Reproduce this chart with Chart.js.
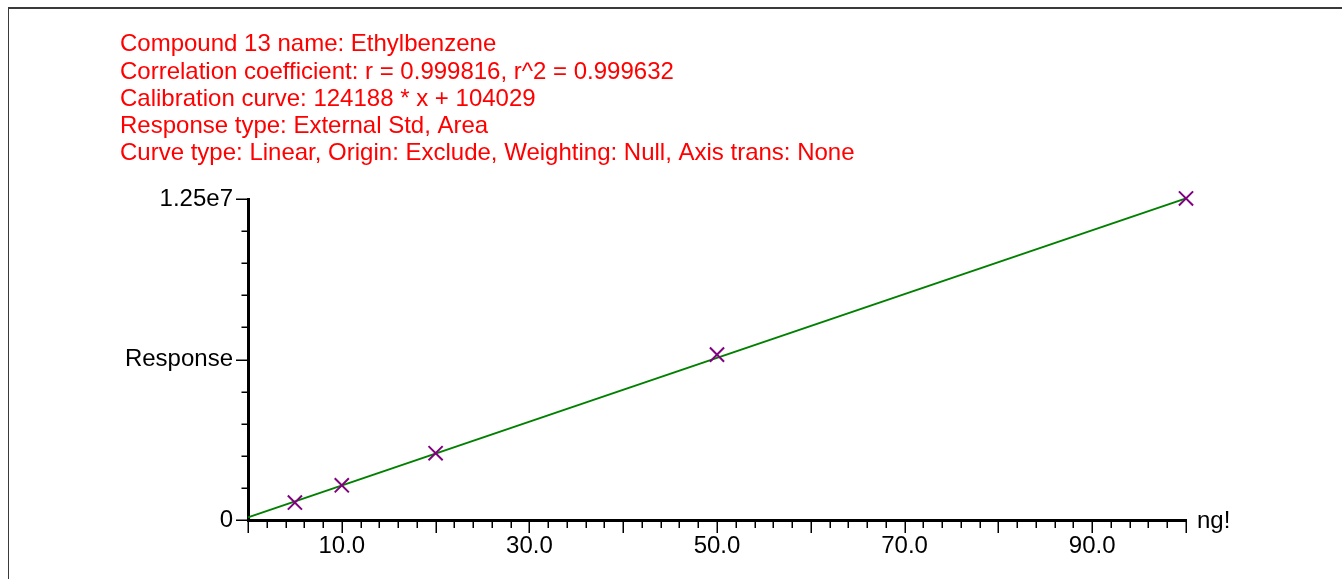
<!DOCTYPE html>
<html>
<head>
<meta charset="utf-8">
<title>Ethylbenzene calibration</title>
<script src="https://cdn.jsdelivr.net/npm/chart.js@4.4.1/dist/chart.umd.min.js"></script>
<style>
  html, body { margin: 0; padding: 0; background: #fff; }
  #wrap { position: relative; width: 1342px; height: 579px; overflow: hidden; }
  #frame {
    position: absolute; left: 8px; top: 7px; width: 1400px; height: 600px;
    border-top: 2px solid #3a3a3a; border-left: 1px solid #3a3a3a;
  }
  canvas { position: absolute; left: 0; top: 0; }
</style>
</head>
<body>
<div id="wrap">
  <div id="frame"></div>
  <canvas id="cal-chart" width="1342" height="579"></canvas>
</div>
<script>
// header text
var headerLines = [
  'Compound 13 name: Ethylbenzene',
  'Correlation coefficient: r = 0.999816, r^2 = 0.999632',
  'Calibration curve: 124188 * x + 104029',
  'Response type: External Std, Area',
  'Curve type: Linear, Origin: Exclude, Weighting: Null, Axis trans: None'
];

// calibration standards (ng) and measured response
var concentrations = [5, 10, 20, 50, 100];
var responses = [680000, 1350000, 2600000, 6440000, 12520000];

// fitted line end points (from the curve equation)
var fitX = [0, 100];
var fitY = [104029, 12522829];

// axis labels
var xLabelValues = [10, 30, 50, 70, 90];
var xLabels = ['10.0', '30.0', '50.0', '70.0', '90.0'];
var yLabelValues = [0, 6250000, 12500000];
var yLabels = ['0', 'Response', '1.25e7'];
var xUnit = 'ng!';

var xMinorStep = 2;
var xMajorStep = 10;
var yMinorStep = 1250000;
var yMajorStep = 6250000;

(function () {
  var canvas = document.getElementById('cal-chart');
  if (!canvas || typeof Chart === 'undefined') {
    return;
  }

  var FONT = "'Liberation Sans', Arial, sans-serif";
  var SIZE = 24;
  var red = '#ff0000';
  var green = '#008000';
  var purple = '#800080';

  function toPoints(xs, ys) {
    return xs.map(function (x, i) { return { x: x, y: ys[i] }; });
  }

  function labelFor(values, labels) {
    return function (value) {
      var i = values.indexOf(value);
      return i >= 0 ? labels[i] : '';
    };
  }

  // small and large tick marks outside the axes, plus the unit label
  var tickMarks = {
    id: 'tickMarks',
    afterDraw: function (chart) {
      var ctx = chart.ctx;
      var xs = chart.scales.x;
      var ys = chart.scales.y;
      var area = chart.chartArea;
      var v, p, len;

      ctx.save();
      ctx.strokeStyle = '#000';
      ctx.lineWidth = 1.5;
      ctx.beginPath();
      for (v = xs.min; v <= xs.max; v += xMinorStep) {
        p = Math.round(xs.getPixelForValue(v)) + 0.25;
        len = v % xMajorStep === 0 ? 13 : 8;
        ctx.moveTo(p, area.bottom);
        ctx.lineTo(p, area.bottom + len);
      }
      for (v = ys.min; v <= ys.max; v += yMinorStep) {
        p = Math.round(ys.getPixelForValue(v)) + 0.25;
        len = v % yMajorStep === 0 ? 12 : 6.5;
        ctx.moveTo(area.left, p);
        ctx.lineTo(area.left - len, p);
      }
      ctx.stroke();

      ctx.fillStyle = '#000';
      ctx.font = SIZE + 'px ' + FONT;
      ctx.textAlign = 'left';
      ctx.textBaseline = 'alphabetic';
      ctx.fillText(xUnit, area.right + 11, area.bottom + 8);
      ctx.restore();
    }
  };

  new Chart(canvas, {
    type: 'scatter',
    data: {
      datasets: [
        {
          label: 'Standards',
          data: toPoints(concentrations, responses),
          pointStyle: 'crossRot',
          pointRadius: 10,
          pointBorderWidth: 2,
          borderColor: purple,
          backgroundColor: purple,
          showLine: false,
          clip: false,
          order: 0
        },
        {
          label: 'Fit',
          type: 'line',
          data: toPoints(fitX, fitY),
          borderColor: green,
          borderWidth: 2,
          pointRadius: 0,
          fill: false,
          clip: false,
          order: 1
        }
      ]
    },
    options: {
      responsive: false,
      animation: false,
      layout: { padding: { left: 120, right: 156, top: 0, bottom: 19 } },
      plugins: {
        legend: { display: false },
        tooltip: { enabled: false },
        title: {
          display: true,
          text: headerLines,
          align: 'start',
          color: red,
          font: { family: FONT, size: SIZE, weight: 'normal', lineHeight: 1.1375 },
          padding: { top: 31, bottom: 31.5 }
        }
      },
      scales: {
        x: {
          type: 'linear',
          min: 0,
          max: 100,
          afterBuildTicks: function (scale) {
            scale.ticks = xLabelValues.map(function (v) { return { value: v }; });
          },
          afterFit: function (scale) { scale.height = 40; },
          grid: { display: false, drawTicks: false },
          border: { display: true, color: '#000', width: 3 },
          ticks: {
            color: '#000',
            autoSkip: false,
            maxRotation: 0,
            padding: 12,
            font: { family: FONT, size: SIZE },
            callback: labelFor(xLabelValues, xLabels)
          }
        },
        y: {
          type: 'linear',
          min: 0,
          max: 12500000,
          afterBuildTicks: function (scale) {
            scale.ticks = yLabelValues.map(function (v) { return { value: v }; });
          },
          afterFit: function (scale) { scale.width = 128; },
          grid: { display: false, drawTicks: false },
          border: { display: true, color: '#000', width: 3 },
          ticks: {
            color: '#000',
            autoSkip: false,
            padding: 15,
            font: { family: FONT, size: SIZE },
            callback: labelFor(yLabelValues, yLabels)
          }
        }
      }
    },
    plugins: [tickMarks]
  });
})();
</script>
</body>
</html>
